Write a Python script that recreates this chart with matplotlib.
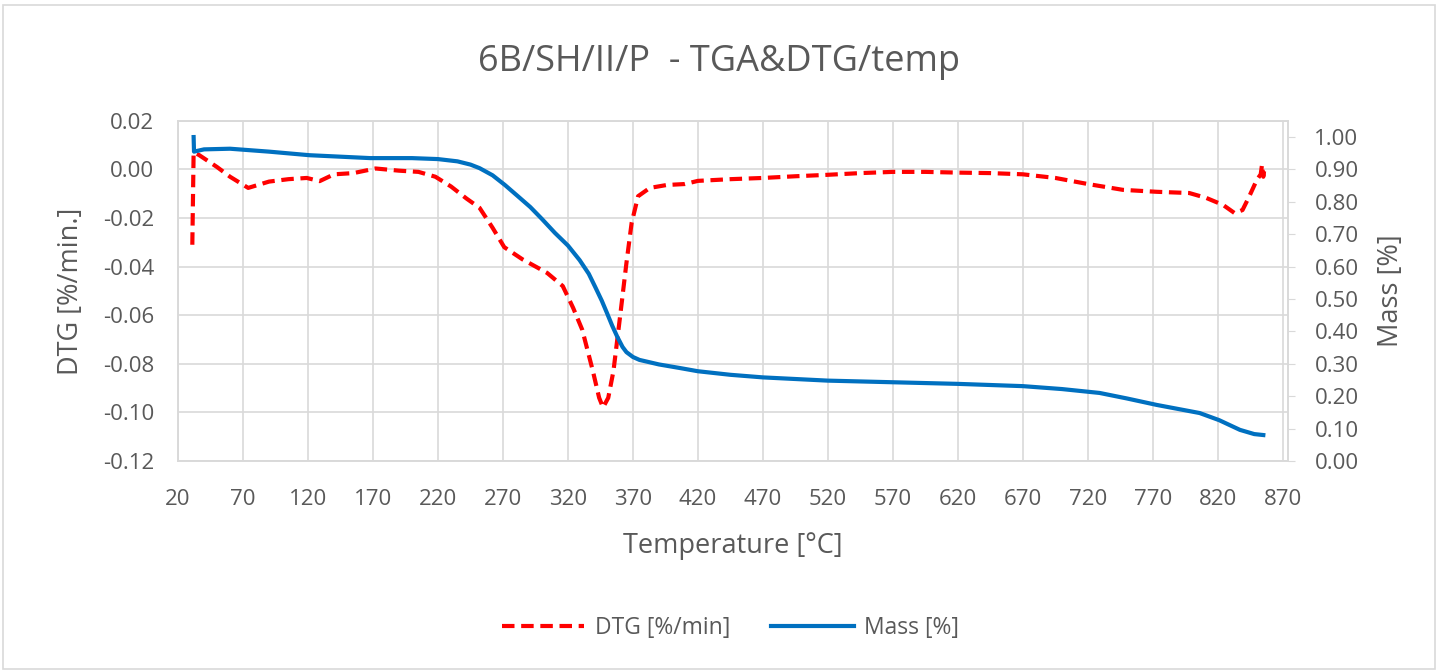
import matplotlib.pyplot as plt
from matplotlib.lines import Line2D
from matplotlib.patches import Rectangle

# DTG curve
temp_dtg = [31, 32, 36, 50, 60, 74, 90, 105, 119, 129, 140, 155, 172, 190, 205,
            218, 230, 242, 252, 262, 271, 285, 304, 316, 324, 331, 339, 344,
            347, 351, 355, 360, 365, 369, 374, 383, 396, 410, 420, 445, 470,
            495, 520, 545, 570, 595, 620, 645, 670, 695, 720, 747, 773, 798,
            811, 824, 833, 839, 844, 850, 853, 854, 855, 856]
dtg = [-0.031, 0.007, 0.006, 0.001, -0.003, -0.0076, -0.005, -0.004, -0.0035,
       -0.0048, -0.002, -0.0015, 0.0004, -0.0005, -0.001, -0.003, -0.007,
       -0.012, -0.0158, -0.024, -0.032, -0.037, -0.0426, -0.048, -0.057,
       -0.066, -0.0826, -0.094, -0.098, -0.094, -0.083, -0.061, -0.0385,
       -0.022, -0.011, -0.0076, -0.0064, -0.006, -0.0047, -0.004, -0.0035,
       -0.0028, -0.0022, -0.0015, -0.001, -0.001, -0.0013, -0.0015, -0.002,
       -0.0035, -0.006, -0.0084, -0.0092, -0.0097, -0.0117, -0.0146, -0.018,
       -0.0167, -0.0113, -0.0043, -0.002, 0.002, -0.003, 0.001]

# Mass curve
temp_mass = [32, 32.3, 40, 60, 90, 121, 168, 200, 220, 235, 245, 252, 262,
             271.5, 281, 291, 300, 310, 320, 329, 336, 341, 346, 350, 354, 358,
             362, 365, 370, 375, 390, 406, 420, 445, 470, 520, 570, 620, 670,
             700, 729, 750, 773, 806, 821, 837, 848, 855]
mass = [1.00, 0.955, 0.962, 0.964, 0.955, 0.944, 0.935, 0.935, 0.932, 0.925,
        0.915, 0.904, 0.882, 0.852, 0.819, 0.784, 0.747, 0.704, 0.665, 0.62,
        0.578, 0.537, 0.495, 0.457, 0.418, 0.383, 0.352, 0.336, 0.321, 0.312,
        0.298, 0.287, 0.277, 0.266, 0.258, 0.248, 0.243, 0.238, 0.231, 0.222,
        0.21, 0.193, 0.173, 0.148, 0.126, 0.096, 0.083, 0.08]

x_ticks = list(range(20, 871, 50))
dtg_ticks = [0.02, 0.00, -0.02, -0.04, -0.06, -0.08, -0.10, -0.12]
mass_ticks = [i / 10 for i in range(11)]

plt.rcParams['font.family'] = ['Open Sans', 'DejaVu Sans']
txt = '#595959'
grid = '#D9D9D9'
dash = (0, (3, 1.6))

fig = plt.figure(figsize=(14.38, 6.70), dpi=100)
fig.patches.append(Rectangle((0.002, 0.002), 0.996, 0.99, transform=fig.transFigure,
                             fill=False, edgecolor='#D9D9D9', linewidth=1.2))
ax = fig.add_axes([0.1238, 0.312, 0.7719, 0.5076])
ax2 = ax.twinx()

ax.plot(temp_dtg, dtg, color='#FF0000', linestyle=dash, linewidth=3)
ax2.plot(temp_mass, mass, color='#0070C0', linewidth=3)

ax.set_xlim(20, 874)
ax.set_ylim(-0.12, 0.02)
ax2.set_ylim(0, 1.05)
ax.set_xticks(x_ticks)
ax.set_yticks(dtg_ticks)
ax.set_yticklabels([f'{v:.2f}' for v in dtg_ticks])
ax2.set_yticks(mass_ticks)
ax2.set_yticklabels([f'{v:.2f}' for v in mass_ticks])

ax.grid(True, color=grid, linewidth=1.2)
ax.set_axisbelow(True)
for a in (ax, ax2):
    for s in a.spines.values():
        s.set_color(grid)
        s.set_linewidth(1.2)
ax.tick_params(axis='x', length=0, labelsize=16, labelcolor=txt, pad=20)
ax.tick_params(axis='y', length=0, labelsize=16, labelcolor=txt, pad=17)
ax2.tick_params(axis='y', length=5, color=grid, labelsize=16, labelcolor=txt, pad=14)

ax.set_xlabel('Temperature [°C]', fontsize=19.5, color=txt, labelpad=16)
ax.set_ylabel('DTG [%/min.]', fontsize=19.5, color=txt, labelpad=13)
ax2.set_ylabel('Mass [%]', fontsize=19.5, color=txt, labelpad=13)

fig.text(0.5, 0.907, '6B/SH/II/P  - TGA&DTG/temp', ha='center', va='center',
         fontsize=26, color=txt)

handles = [Line2D([], [], color='#FF0000', linestyle=dash, linewidth=3),
           Line2D([], [], color='#0070C0', linewidth=3)]
fig.legend(handles, ['DTG [%/min]', 'Mass [%]'], loc='center',
           bbox_to_anchor=(0.508, 0.063), ncol=2, frameon=False, fontsize=16.5,
           labelcolor=txt, handlelength=3.6, columnspacing=1.8, handletextpad=0.45)

fig.savefig('out.png', dpi=100, facecolor='white')
